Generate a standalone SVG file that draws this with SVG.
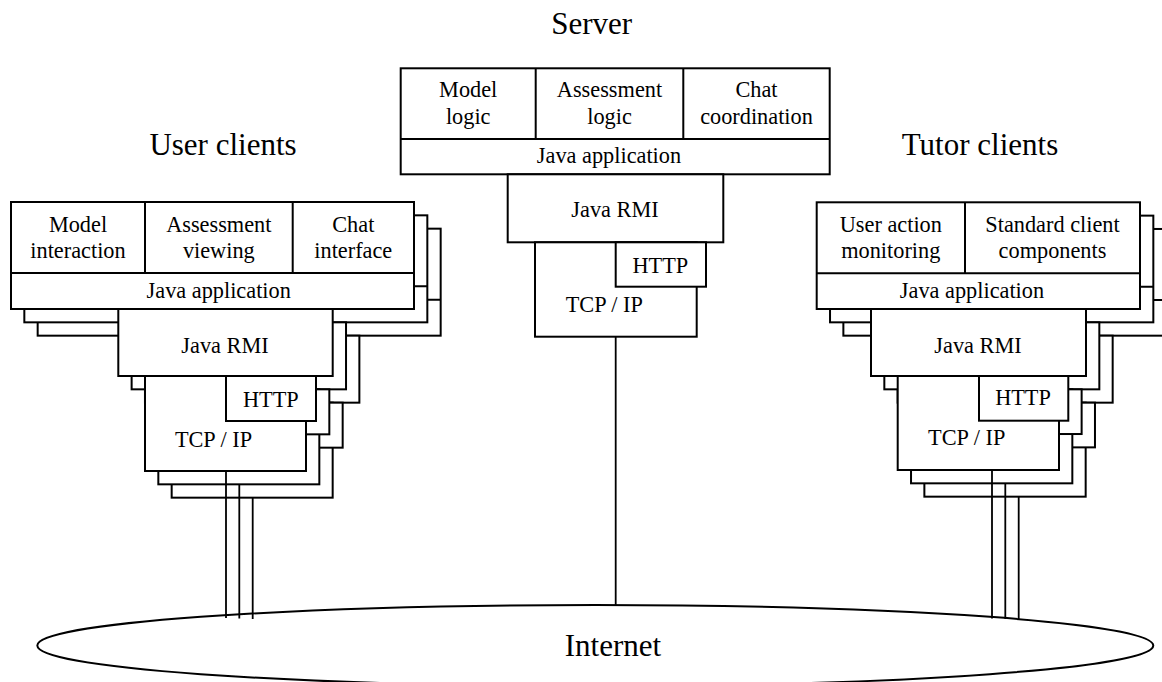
<svg xmlns="http://www.w3.org/2000/svg" xmlns:xlink="http://www.w3.org/1999/xlink" width="1162" height="682" viewBox="0 0 1162 682">
<style>
.b{fill:#fff;stroke:#000;stroke-width:2}
.l{stroke:#000;stroke-width:2;fill:none}
.c{stroke:#000;stroke-width:1.8;fill:none}
.t{font-family:"Liberation Serif","Times New Roman",serif;font-size:22.3px;text-anchor:middle;fill:#000}
.h{font-family:"Liberation Serif","Times New Roman",serif;font-size:31px;text-anchor:middle;fill:#000}
</style>
<defs>
<g id="ucFrame">
<rect class="b" x="11" y="202" width="403" height="107"/>
<path class="l" d="M11 273H414M145 202V273M292.7 202V273"/>
<rect class="b" x="118.3" y="309" width="214.4" height="67"/>
<rect class="b" x="145" y="376" width="161" height="95"/>
<rect class="b" x="226" y="376" width="90" height="45"/>
</g>
<g id="tcFrame">
<rect class="b" x="816.7" y="202.3" width="323.3" height="106.7"/>
<path class="l" d="M816.7 273.3H1140M965 202.3V273.3"/>
<rect class="b" x="871" y="309" width="215" height="67"/>
<rect class="b" x="897.7" y="376" width="161.3" height="94"/>
<rect class="b" x="979" y="376" width="89.3" height="44.7"/>
</g>
</defs>

<g id="internet">
<ellipse class="b" cx="595.3" cy="645.5" rx="558" ry="40.5"/>
<text class="h" x="613" y="655.5">Internet</text>
</g>

<g id="titles">
<text class="h" x="591.7" y="33.5">Server</text>
<text class="h" x="223" y="155">User clients</text>
<text class="h" x="980" y="155">Tutor clients</text>
</g>

<g id="server">
<rect class="b" x="400.7" y="68.3" width="429" height="106"/>
<path class="l" d="M400.7 139H829.7M535.7 68.3V139M683.3 68.3V139"/>
<rect class="b" x="507.7" y="174.3" width="215.6" height="68"/>
<rect class="b" x="535" y="242.3" width="161.7" height="94.4"/>
<rect class="b" x="615.7" y="242.3" width="90.3" height="44.4"/>
<text class="t" x="468.2" y="97.3">Model</text>
<text class="t" x="468.2" y="124">logic</text>
<text class="t" x="609.5" y="97.3">Assessment</text>
<text class="t" x="609.5" y="124">logic</text>
<text class="t" x="756.5" y="97.3">Chat</text>
<text class="t" x="756.5" y="124">coordination</text>
<text class="t" x="609" y="163.3">Java application</text>
<text class="t" x="615" y="217.3">Java RMI</text>
<text class="t" x="660.3" y="272.7">HTTP</text>
<text class="t" x="604.3" y="311.7">TCP / IP</text>
</g>

<g id="user-clients">
<use xlink:href="#ucFrame" href="#ucFrame" transform="translate(26.67,26.67)"/>
<use xlink:href="#ucFrame" href="#ucFrame" transform="translate(13.33,13.33)"/>
<use xlink:href="#ucFrame" href="#ucFrame"/>
<text class="t" x="78" y="231.7">Model</text>
<text class="t" x="78" y="258.3">interaction</text>
<text class="t" x="218.8" y="231.7">Assessment</text>
<text class="t" x="218.8" y="258.3">viewing</text>
<text class="t" x="353.3" y="231.7">Chat</text>
<text class="t" x="353.3" y="258.3">interface</text>
<text class="t" x="218.7" y="298.3">Java application</text>
<text class="t" x="225" y="352.7">Java RMI</text>
<text class="t" x="270.8" y="406.7">HTTP</text>
<text class="t" x="213.5" y="446.7">TCP / IP</text>
</g>

<g id="tutor-clients">
<use xlink:href="#tcFrame" href="#tcFrame" transform="translate(26.67,26.67)"/>
<use xlink:href="#tcFrame" href="#tcFrame" transform="translate(13.33,13.33)"/>
<use xlink:href="#tcFrame" href="#tcFrame"/>
<text class="t" x="890.8" y="231.7">User action</text>
<text class="t" x="890.8" y="258.3">monitoring</text>
<text class="t" x="1052.5" y="231.7">Standard client</text>
<text class="t" x="1052.5" y="258.3">components</text>
<text class="t" x="972" y="298.3">Java application</text>
<text class="t" x="978" y="353.3">Java RMI</text>
<text class="t" x="1023" y="405">HTTP</text>
<text class="t" x="966.7" y="445">TCP / IP</text>
</g>

<g id="connectors">
<path class="c" d="M615.7 336.7V606"/>
<path class="c" d="M226 471V618M239.3 484.3V618.5M252.7 497.7V619"/>
<path class="c" d="M992 470V618.5M1005.3 483.3V619M1018.7 496.7V619.5"/>
</g>
</svg>
